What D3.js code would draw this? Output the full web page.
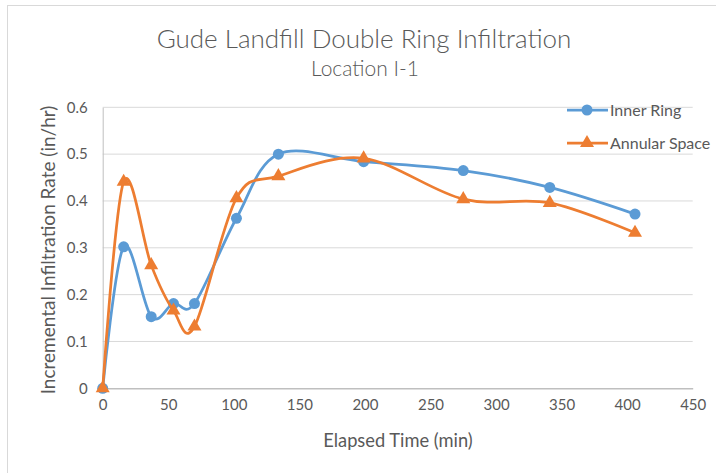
<!DOCTYPE html>
<html>
<head>
<meta charset="utf-8">
<script src="https://cdn.jsdelivr.net/npm/d3@7"></script>
<style>
  html, body { margin: 0; padding: 0; background: #fff; }
  svg { display: block; font-family: Lato, "Open Sans", sans-serif; }
</style>
</head>
<body>
<svg id="chart" width="716" height="473"></svg>
<script>
// Elapsed time (min) at each reading
const elapsedTime = [0, 16, 37, 54, 70, 102, 134, 199, 275, 341, 406];
// Incremental infiltration rate (in/hr)
const innerRing    = [0, 0.302, 0.153, 0.181, 0.181, 0.363, 0.500, 0.484, 0.465, 0.429, 0.372];
const annularSpace = [0, 0.441, 0.263, 0.166, 0.132, 0.406, 0.453, 0.491, 0.404, 0.396, 0.332];
const seriesNames  = ["Inner Ring", "Annular Space"];
const xTicks = [0, 50, 100, 150, 200, 250, 300, 350, 400, 450];
const yTicks = [0, 0.1, 0.2, 0.3, 0.4, 0.5, 0.6];

const svg = d3.select("#chart");
const textColor = "#595959";
const colors = ["#5B9BD5", "#ED7D31"];
const font = "Lato, \"Open Sans\", sans-serif";

// chart frame
svg.append("rect")
  .attr("x", 7.5).attr("y", 5.5)
  .attr("width", 720).attr("height", 480)
  .attr("fill", "#fff").attr("stroke", "#D9D9D9").attr("stroke-width", 1);

const plot = { left: 102.7, right: 692.7, top: 107.3, bottom: 388.3 };

const x = d3.scaleLinear().domain([0, 450]).range([plot.left, plot.right]);
const y = d3.scaleLinear().domain([0, 0.6]).range([plot.bottom, plot.top]);

// horizontal gridlines
svg.append("g")
  .selectAll("line")
  .data(yTicks.filter(d => d > 0))
  .join("line")
  .attr("x1", plot.left).attr("x2", plot.right)
  .attr("y1", d => y(d)).attr("y2", d => y(d))
  .attr("stroke", "#D9D9D9").attr("stroke-width", 1);

// y axis
const yAxis = svg.append("g")
  .attr("transform", `translate(${plot.left},0)`)
  .call(d3.axisLeft(y).tickValues(yTicks).tickSize(0).tickPadding(15)
    .tickFormat(d => d === 0 ? "0" : d3.format(".1f")(d)));
yAxis.select(".domain").attr("stroke", "#BFBFBF").attr("stroke-width", 1);
yAxis.selectAll("text").attr("fill", textColor).attr("font-size", 15)
  .attr("font-family", font);

// x axis
const xAxis = svg.append("g")
  .attr("transform", `translate(0,${plot.bottom})`)
  .call(d3.axisBottom(x).tickValues(xTicks).tickSize(0).tickPadding(11)
    .tickFormat(d3.format("d")));
xAxis.select(".domain").attr("stroke", "#BFBFBF").attr("stroke-width", 1.5);
xAxis.selectAll("text").attr("fill", textColor).attr("font-size", 15)
  .attr("font-family", font);

// titles
svg.append("text")
  .attr("x", 364).attr("y", 48)
  .attr("text-anchor", "middle")
  .attr("fill", textColor).attr("font-size", 26).attr("font-weight", 300)
  .text("Gude Landfill Double Ring Infiltration");
svg.append("text")
  .attr("x", 365).attr("y", 76)
  .attr("text-anchor", "middle")
  .attr("fill", textColor).attr("font-size", 21).attr("font-weight", 300)
  .text("Location I-1");

svg.append("text")
  .attr("x", 398).attr("y", 447)
  .attr("text-anchor", "middle")
  .attr("fill", textColor).attr("font-size", 18.3)
  .text("Elapsed Time (min)");

svg.append("text")
  .attr("transform", "translate(55,250) rotate(-90)")
  .attr("text-anchor", "middle")
  .attr("fill", textColor).attr("font-size", 19)
  .text("Incremental Infiltration Rate (in/hr)");

// series
const series = [innerRing, annularSpace].map((vals, i) => ({
  name: seriesNames[i],
  color: colors[i],
  points: elapsedTime.map((t, j) => ({ t, v: vals[j] }))
}));

const line = d3.line()
  .x(d => x(d.t)).y(d => y(d.v))
  .curve(d3.curveCardinal.tension(0));

const circleSym = d3.symbol().type(d3.symbolCircle).size(95);
const triSym = d3.symbol().type(d3.symbolTriangle).size(85);

series.forEach((s, i) => {
  const g = svg.append("g");
  g.append("path")
    .attr("d", line(s.points))
    .attr("fill", "none")
    .attr("stroke", s.color)
    .attr("stroke-width", 2.75)
    .attr("stroke-linejoin", "round");
  g.selectAll("path.mark")
    .data(s.points)
    .join("path")
    .attr("class", "mark")
    .attr("transform", d => `translate(${x(d.t)},${y(d.v)})`)
    .attr("d", i === 0 ? circleSym : triSym)
    .attr("fill", s.color);
});

// legend
const legend = svg.append("g");
const legendY = [110, 143];
series.forEach((s, i) => {
  const ly = legendY[i];
  legend.append("line")
    .attr("x1", 567).attr("x2", 608)
    .attr("y1", ly).attr("y2", ly)
    .attr("stroke", s.color).attr("stroke-width", 2.75);
  legend.append("path")
    .attr("transform", `translate(587,${ly})`)
    .attr("d", i === 0 ? circleSym : triSym)
    .attr("fill", s.color);
  legend.append("text")
    .attr("x", 610).attr("y", ly + 5.5)
    .attr("fill", textColor).attr("font-size", 16)
    .text(s.name);
});
</script>
</body>
</html>
